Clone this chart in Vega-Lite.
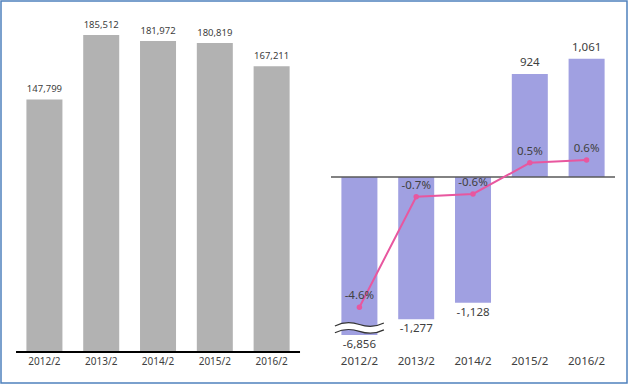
{
  "$schema": "https://vega.github.io/schema/vega-lite/v6.json",
  "width": 626,
  "height": 382,
  "autosize": "none",
  "padding": {"left": 1, "top": 1, "right": 3, "bottom": 2},
  "config": {
    "view": {"stroke": "#4f81bd", "strokeWidth": 1.5},
    "font": "Noto Sans",
    "locale": {"number": {"decimal": ".", "thousands": ",", "grouping": [3], "currency": ["", ""], "minus": "-"}}
  },
  "datasets": {
    "sales": [
      {"panel": "sales", "year": "2012/2", "value": 147799},
      {"panel": "sales", "year": "2013/2", "value": 185512},
      {"panel": "sales", "year": "2014/2", "value": 181972},
      {"panel": "sales", "year": "2015/2", "value": 180819},
      {"panel": "sales", "year": "2016/2", "value": 167211}
    ],
    "change": [
      {"panel": "change", "year": "2012/2", "change": -6856, "pct": -0.046},
      {"panel": "change", "year": "2013/2", "change": -1277, "pct": -0.007},
      {"panel": "change", "year": "2014/2", "change": -1128, "pct": -0.006},
      {"panel": "change", "year": "2015/2", "change": 924, "pct": 0.005},
      {"panel": "change", "year": "2016/2", "change": 1061, "pct": 0.006}
    ]
  },
  "encoding": {
    "x": {
      "field": "panel",
      "type": "nominal",
      "axis": null,
      "scale": {"domain": ["sales", "change"], "paddingInner": 0.0984, "paddingOuter": 0.0429, "align": 0.556}
    }
  },
  "layer": [
    {
      "data": {"name": "sales"},
      "encoding": {
        "y": {"field": "value", "type": "quantitative", "axis": null, "scale": {"domain": [-18141, 205406], "nice": false, "zero": false}}
      },
      "layer": [
        {
          "mark": {"type": "bar", "color": "#b2b2b2"},
          "encoding": {"xOffset": {"field": "year", "type": "nominal", "scale": {"paddingInner": 0.366, "paddingOuter": 0.183}}}
        },
        {
          "mark": {"type": "text", "dy": -10, "fontSize": 9.5, "color": "#404040", "baseline": "middle"},
          "encoding": {
            "xOffset": {"field": "year", "type": "nominal"},
            "text": {"field": "value", "type": "quantitative", "format": ","}
          }
        },
        {
          "mark": {"type": "text", "dy": 10, "fontSize": 10, "color": "#404040", "baseline": "middle"},
          "encoding": {
            "xOffset": {"field": "year", "type": "nominal"},
            "y": {"datum": 0, "type": "quantitative"},
            "text": {"field": "year", "type": "nominal"}
          }
        },
        {
          "transform": [{"filter": "datum.year == '2012/2'"}],
          "mark": {"type": "tick", "size": 284, "thickness": 2, "color": "#000000", "opacity": 1, "orient": "horizontal"},
          "encoding": {"y": {"datum": 0, "type": "quantitative"}}
        }
      ]
    },
    {
      "data": {"name": "change"},
      "encoding": {
        "y": {"field": "change", "type": "quantitative", "axis": null, "scale": {"domain": [-1418, 1580], "range": [334, 0], "clamp": true, "nice": false, "zero": false}}
      },
      "layer": [
        {
          "mark": {"type": "bar", "color": "#a0a0e1"},
          "encoding": {"xOffset": {"field": "year", "type": "nominal", "scale": {"paddingInner": 0.366, "paddingOuter": 0.183}}}
        },
        {
          "transform": [{"filter": "datum.year == '2012/2'"}],
          "mark": {"type": "tick", "size": 284, "thickness": 1.5, "color": "#595959", "opacity": 1, "orient": "horizontal"},
          "encoding": {"y": {"datum": 0, "type": "quantitative"}}
        },
        {
          "transform": [{"filter": "datum.change < -1418"}],
          "mark": {
            "type": "point",
            "shape": "M-1,-0.37 C-0.6,-0.57 -0.3,-0.53 0,-0.43 C0.3,-0.33 0.6,-0.29 1,-0.49 L1,-0.21 C0.6,-0.01 0.3,-0.05 0,-0.15 C-0.3,-0.25 -0.6,-0.29 -1,-0.09 Z",
            "size": 2400, "filled": true, "fill": "#ffffff", "strokeWidth": 0, "opacity": 1
          },
          "encoding": {"xOffset": {"field": "year", "type": "nominal"}}
        },
        {
          "transform": [{"filter": "datum.change < -1418"}],
          "mark": {
            "type": "point",
            "shape": "M-1,-0.37 C-0.6,-0.57 -0.3,-0.53 0,-0.43 C0.3,-0.33 0.6,-0.29 1,-0.49 M-1,-0.09 C-0.6,-0.29 -0.3,-0.25 0,-0.15 C0.3,-0.05 0.6,-0.01 1,-0.21",
            "size": 2400, "filled": false, "stroke": "#333333", "strokeWidth": 1.2, "opacity": 1
          },
          "encoding": {"xOffset": {"field": "year", "type": "nominal"}}
        },
        {
          "transform": [{"filter": "datum.change >= 0"}],
          "mark": {"type": "text", "dy": -11, "fontSize": 11.5, "color": "#404040", "baseline": "middle"},
          "encoding": {
            "xOffset": {"field": "year", "type": "nominal"},
            "text": {"field": "change", "type": "quantitative", "format": ","}
          }
        },
        {
          "transform": [{"filter": "datum.change < 0"}],
          "mark": {"type": "text", "dy": 10, "fontSize": 11.5, "color": "#404040", "baseline": "middle"},
          "encoding": {
            "xOffset": {"field": "year", "type": "nominal"},
            "text": {"field": "change", "type": "quantitative", "format": ","}
          }
        },
        {
          "mark": {"type": "text", "dy": 27, "fontSize": 11.5, "color": "#404040", "baseline": "middle"},
          "encoding": {
            "xOffset": {"field": "year", "type": "nominal"},
            "y": {"datum": -1418, "type": "quantitative"},
            "text": {"field": "year", "type": "nominal"}
          }
        }
      ]
    },
    {
      "data": {"name": "change"},
      "encoding": {
        "y": {"field": "pct", "type": "quantitative", "axis": null, "scale": {"domain": [-0.07279, 0.06219], "nice": false, "zero": false}},
        "xOffset": {"field": "year", "type": "nominal"}
      },
      "layer": [
        {
          "mark": {"type": "line", "color": "#e8579f", "strokeWidth": 2},
          "encoding": {"order": {"field": "year", "type": "ordinal"}}
        },
        {
          "mark": {"type": "point", "filled": true, "color": "#e8579f", "size": 30, "opacity": 1}
        },
        {
          "mark": {"type": "text", "dy": -11, "fontSize": 11.5, "color": "#404040", "baseline": "middle"},
          "encoding": {"text": {"field": "pct", "type": "quantitative", "format": ".1%"}}
        }
      ]
    }
  ],
  "resolve": {"scale": {"y": "independent"}}
}
